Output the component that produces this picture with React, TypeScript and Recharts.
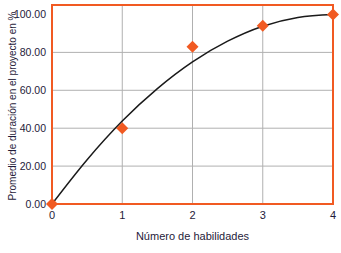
import React from 'react';
import {
    ComposedChart,
    Line,
    Scatter,
    XAxis,
    YAxis,
    CartesianGrid,
    ReferenceArea,
} from 'recharts';

// --- Data ---

const skillCounts = [0, 1, 2, 3, 4];
const durationPct = [0, 40, 83, 94, 100];

// trend curve
const trendX = [0, 0.5, 1, 1.5, 2, 2.5, 3, 3.5, 4];
const trendY = [0, 23.4, 43.8, 60.9, 75, 85.9, 93.8, 98.4, 100];

const xTicks = [0, 1, 2, 3, 4];
const yTicks = [0, 20, 40, 60, 80, 100];

const pointData = skillCounts.map((x, i) => ({ x, y: durationPct[i] }));
const trendData = trendX.map((x, i) => ({ x, t: trendY[i] }));

const ORANGE = '#F15A22';
const TEXT = '#1f1b3a';
const FONT = '"Liberation Sans Narrow", "Liberation Sans", Arial, sans-serif';

const Diamond = (props: any) => {
    const { cx, cy } = props;
    const r = 6;
    return (
        <polygon
            points={`${cx},${cy - r} ${cx + r},${cy} ${cx},${cy + r} ${cx - r},${cy}`}
            fill={ORANGE}
        />
    );
};

export default function App() {
    return (
        <div style={{ position: 'absolute', left: 0, top: 0, width: 341, height: 253, background: '#fff' }}>
            <ComposedChart width={341} height={253} margin={{ top: 5, right: 8, left: 0, bottom: 0 }}>
                <CartesianGrid
                    stroke="#b0b0b0"
                    horizontalValues={[20, 40, 60, 80]}
                    verticalValues={[1, 2, 3]}
                />
                <XAxis
                    type="number"
                    dataKey="x"
                    domain={[0, 4]}
                    ticks={xTicks}
                    axisLine={false}
                    tickLine={false}
                    tickSize={5}
                    tick={{ fill: TEXT, fontSize: 11, fontFamily: FONT }}
                    height={49}
                    label={{
                        value: 'Número de habilidades',
                        position: 'insideBottom',
                        offset: 13,
                        fill: TEXT,
                        fontSize: 11,
                        fontFamily: FONT,
                    }}
                />
                <YAxis
                    type="number"
                    domain={[0, 105]}
                    ticks={yTicks}
                    axisLine={false}
                    tickLine={false}
                    tickSize={4}
                    tickMargin={2}
                    width={52}
                    tick={{ fill: TEXT, fontSize: 10.5, fontFamily: FONT }}
                    tickFormatter={(v: number) => v.toFixed(2)}
                    label={{
                        value: 'Promedio de duración en el proyecto  en %',
                        angle: -90,
                        position: 'insideLeft',
                        offset: 12,
                        dy: 96,
                        fill: TEXT,
                        fontSize: 10,
                        fontFamily: FONT,
                    }}
                />
                <ReferenceArea
                    x1={0}
                    x2={4}
                    y1={0}
                    y2={105}
                    fill="none"
                    stroke={ORANGE}
                    strokeWidth={2}
                    fillOpacity={0}
                />
                <Line
                    data={trendData}
                    dataKey="t"
                    type="monotone"
                    stroke="#1a1a1a"
                    strokeWidth={1.5}
                    dot={false}
                    activeDot={false}
                    isAnimationActive={false}
                />
                <Scatter
                    data={pointData}
                    dataKey="y"
                    shape={<Diamond />}
                    isAnimationActive={false}
                />
            </ComposedChart>
        </div>
    );
}
